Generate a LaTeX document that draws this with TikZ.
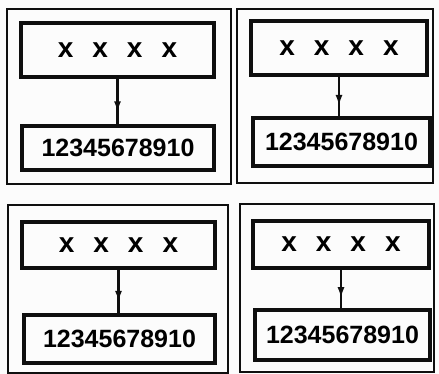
\documentclass[tikz,border=0pt]{standalone}
\usepackage{fontspec}
\setmainfont{Liberation Sans}
\usepackage{tikz}
\usetikzlibrary{arrows.meta, positioning, decorations.markings}
\definecolor{myink}{RGB}{15,15,15}
\definecolor{mypaper}{RGB}{252,252,252}
\tikzset{
  panel/.style={rectangle, draw=myink, line width=2.6pt, inner sep=0pt},
  labelbox/.style={rectangle, draw=myink, line width=3.6pt, inner sep=0pt,
    align=center, font=\fontsize{25}{30}\selectfont\bfseries},
  midarrow/.style={myink, line width=2.2pt,
    decoration={markings, mark=at position 0.74 with {\arrow{Latex[length=11pt,width=7pt]}}},
    postaction={decorate}}
}
\newcommand{\xrow}{{\fontsize{28}{30}\selectfont x\hspace{19pt}x\hspace{19pt}x\hspace{19pt}x}}

\begin{document}
\begin{tikzpicture}[x=1pt, y=-1pt]
  \useasboundingbox[fill=mypaper] (0,0) rectangle (439,374);

  % Panel 1 (top left)
  \node[panel, minimum width=224pt, minimum height=175pt] (p1) at (119, 96.5) {};
  \node[labelbox, minimum width=193pt, minimum height=54pt] (t1) at (117.5, 50) {\xrow};
  \node[labelbox, minimum width=192pt, minimum height=44pt] (b1) at (118, 148) {12345678910};
  \draw[midarrow] (t1.south) -- (t1.south |- b1.north);

  % Panel 2 (top right)
  \node[panel, minimum width=196pt, minimum height=174pt] (p2) at (335, 96) {};
  \node[labelbox, minimum width=176pt, minimum height=54pt] (t2) at (339, 48) {\xrow};
  \node[labelbox, minimum width=177pt, minimum height=48pt] (b2) at (341.5, 142) {12345678910};
  \draw[midarrow] (t2.south) -- (t2.south |- b2.north);

  % Panel 3 (bottom left)
  \node[panel, minimum width=220pt, minimum height=168pt] (p3) at (118, 289) {};
  \node[labelbox, minimum width=193pt, minimum height=46pt] (t3) at (118.5, 245) {\xrow};
  \node[labelbox, minimum width=191pt, minimum height=48pt] (b3) at (119.5, 339) {12345678910};
  \draw[midarrow] (t3.south) -- (t3.south |- b3.north);

  % Panel 4 (bottom right)
  \node[panel, minimum width=194pt, minimum height=168pt] (p4) at (337, 288) {};
  \node[labelbox, minimum width=176pt, minimum height=47pt] (t4) at (341, 244.5) {\xrow};
  \node[labelbox, minimum width=175pt, minimum height=50pt] (b4) at (342.5, 335) {12345678910};
  \draw[midarrow] (t4.south) -- (t4.south |- b4.north);
\end{tikzpicture}
\end{document}
